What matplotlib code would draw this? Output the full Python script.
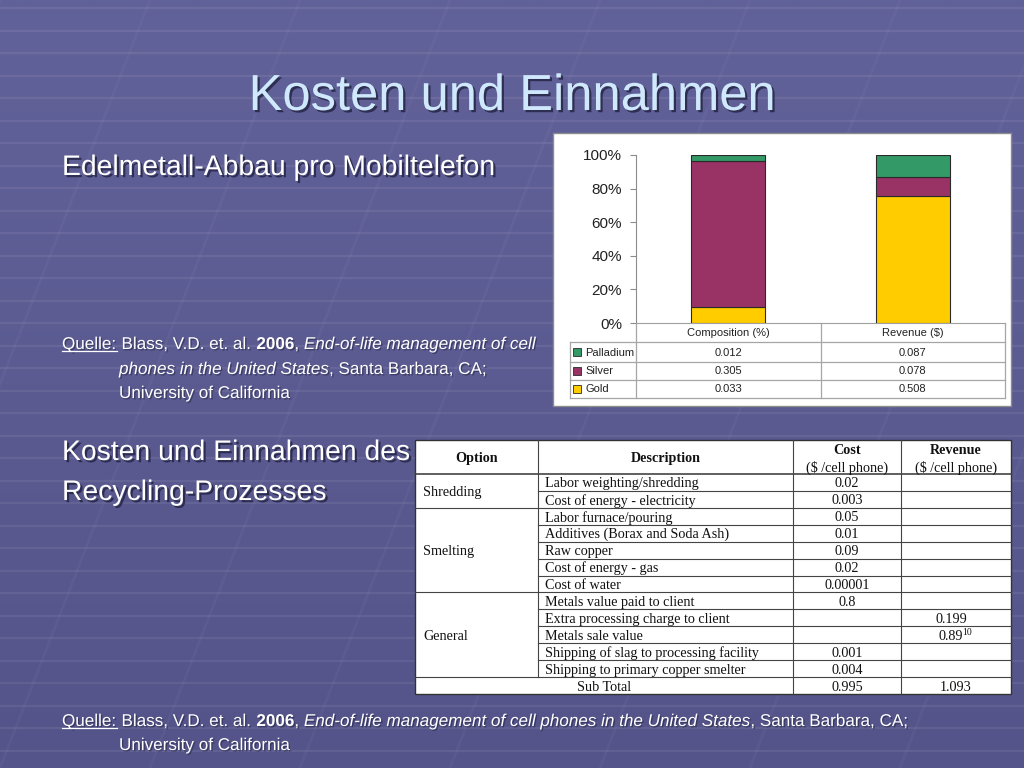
import matplotlib
matplotlib.use("Agg")
import matplotlib.pyplot as plt
import matplotlib.patheffects as pe
from matplotlib.patches import Rectangle
import numpy as np

# ---------------- data ----------------
metals = ["Palladium", "Silver", "Gold"]
metal_colors = ["#339966", "#993366", "#FFCC00"]
chart_cats = ["Composition (%)", "Revenue ($)"]
composition = [0.012, 0.305, 0.033]
revenue_metal = [0.087, 0.078, 0.508]
yticks = [0, 20, 40, 60, 80, 100]

options = ["Shredding", "Smelting", "General"]
option_sizes = [2, 5, 5]
descriptions = ["Labor weighting/shredding", "Cost of energy - electricity",
                "Labor furnace/pouring", "Additives (Borax and Soda Ash)",
                "Raw copper", "Cost of energy - gas", "Cost of water",
                "Metals value paid to client", "Extra processing charge to client",
                "Metals sale value", "Shipping of slag to processing facility",
                "Shipping to primary copper smelter"]
costs = ["0.02", "0.003", "0.05", "0.01", "0.09", "0.02", "0.00001",
         "0.8", "", "", "0.001", "0.004"]
revenues = ["", "", "", "", "", "", "", "", "0.199", "0.89", "", ""]
revenue_notes = ["", "", "", "", "", "", "", "", "", "10", "", ""]
subtotal_label = "Sub Total"
subtotal_cost = "0.995"
subtotal_revenue = "1.093"
col_headers = ["Option", "Description", "Cost", "Revenue"]
col_units = ["", "", "($ /cell phone)", "($ /cell phone)"]

# ---------------- figure ----------------
W, H = 1024, 768
fig = plt.figure(figsize=(W / 100, H / 100), dpi=100)
ax = fig.add_axes([0, 0, 1, 1])
ax.set_xlim(0, W)
ax.set_ylim(H, 0)
ax.axis("off")

# background gradient
grad = np.linspace(0, 1, 256)[:, None]
top = np.array([0x62, 0x62, 0x9a]) / 255
bot = np.array([0x54, 0x54, 0x8a]) / 255
img = top[None, None, :] * (1 - grad[..., None]) + bot[None, None, :] * grad[..., None]
img = np.repeat(img, 2, axis=1)
ax.imshow(img, extent=[0, W, H, 0], aspect="auto", zorder=0)

# faint perspective grid
for yy in np.arange(8, H, 22.5):
    ax.plot([0, W], [yy, yy], color="white", alpha=0.07, lw=1.6, zorder=1)
for k in range(-4, 10):
    xb = k * 150
    ax.plot([xb, xb + 300], [H, 0], color="white", alpha=0.03, lw=2, zorder=1)

renderer = fig.canvas.get_renderer()
SANS = "Liberation Sans"
SERIF = "Liberation Serif"
shadow = [pe.SimplePatchShadow(offset=(1.6, -1.6), shadow_rgbFace="#1e1e3c", alpha=0.75), pe.Normal()]
light_shadow = [pe.SimplePatchShadow(offset=(1, -1), shadow_rgbFace="#1e1e3c", alpha=0.5), pe.Normal()]


def text_width(s, **kw):
    t1 = ax.text(0, 0, s + "|", **kw)
    t2 = ax.text(0, 0, "|", **kw)
    w = t1.get_window_extent(renderer).width - t2.get_window_extent(renderer).width
    t1.remove()
    t2.remove()
    return w


def runs_text(x, y, runs, size, color="white", effects=None):
    for s, weight, style, ul in runs:
        kw = dict(fontsize=size, fontweight=weight, fontstyle=style, family=SANS)
        w = text_width(s, **kw)
        ax.text(x, y, s, color=color, va="baseline", ha="left", zorder=5,
                path_effects=effects, **kw)
        if ul:
            ax.plot([x, x + w], [y + 2.2, y + 2.2], color=color, lw=0.9, zorder=5)
        x += w


# title
ax.text(512, 110, "Kosten und Einnahmen", fontsize=36.5, family=SANS, color="#cfe8fb",
        ha="center", va="baseline", zorder=5, path_effects=shadow)

# headings
ax.text(62, 175, "Edelmetall-Abbau pro Mobiltelefon", fontsize=20.4, family=SANS,
        color="white", ha="left", va="baseline", zorder=5, path_effects=shadow)
ax.text(62, 460, "Kosten und Einnahmen des", fontsize=20.4, family=SANS,
        color="white", ha="left", va="baseline", zorder=5, path_effects=shadow)
ax.text(62, 500, "Recycling-Prozesses", fontsize=20.4, family=SANS,
        color="white", ha="left", va="baseline", zorder=5, path_effects=shadow)

# sources
qs = 12.3
runs_text(62, 349, [("Quelle:", "normal", "normal", True),
                    (" Blass, V.D. et. al. ", "normal", "normal", False),
                    ("2006", "bold", "normal", False),
                    (", ", "normal", "normal", False),
                    ("End-of-life management of cell", "normal", "italic", False)], qs,
          effects=light_shadow)
runs_text(119, 374, [("phones in the United States", "normal", "italic", False),
                     (", Santa Barbara, CA;", "normal", "normal", False)], qs, effects=light_shadow)
runs_text(119, 398, [("University of California", "normal", "normal", False)], qs, effects=light_shadow)

runs_text(62, 726, [("Quelle:", "normal", "normal", True),
                    (" Blass, V.D. et. al. ", "normal", "normal", False),
                    ("2006", "bold", "normal", False),
                    (", ", "normal", "normal", False),
                    ("End-of-life management of cell phones in the United States", "normal", "italic", False),
                    (", Santa Barbara, CA;", "normal", "normal", False)], qs, effects=light_shadow)
runs_text(119, 750, [("University of California", "normal", "normal", False)], qs, effects=light_shadow)

# ---------------- chart panel ----------------
ax.add_patch(Rectangle((553, 133), 458, 273, facecolor="white", edgecolor="#8c8c8c",
                       lw=1, zorder=2))

pl, pr, pt, pb = 636, 1005, 155, 323
cax = fig.add_axes([pl / W, 1 - pb / H, (pr - pl) / W, (pb - pt) / H])
cax.set_facecolor("none")
comp = np.array(composition) / sum(composition) * 100
rev = np.array(revenue_metal) / sum(revenue_metal) * 100
shares = np.vstack([comp, rev])  # rows: categories, cols: metals
xpos = np.arange(len(chart_cats))
bottom = np.zeros(len(chart_cats))
for j in [2, 1, 0]:  # gold at bottom, then silver, palladium on top
    cax.bar(xpos, shares[:, j], 0.4, bottom=bottom, color=metal_colors[j],
            edgecolor="#2a2a2a", lw=0.8, zorder=3)
    bottom += shares[:, j]
cax.set_xlim(-0.5, 1.5)
cax.set_ylim(0, 100)
cax.set_yticks(yticks)
cax.set_yticklabels([f"{v}%" for v in yticks], fontsize=11, family=SANS, color="#222222")
cax.set_xticks([])
for s in ["top", "right"]:
    cax.spines[s].set_visible(False)
cax.spines["left"].set_color("#8c8c8c")
cax.spines["bottom"].set_color("#a0a0a0")
cax.tick_params(axis="y", length=4, color="#8c8c8c", pad=6)

# data table under chart
tl = 570
hb, rows_y = 342, [342, 362, 380, 398]
gc = "#a6a6a6"
cmid = (pl + pr) / 2
ax.plot([pl, pl], [pb, rows_y[-1]], color=gc, lw=0.9, zorder=3)
ax.plot([cmid, cmid], [pb, rows_y[-1]], color=gc, lw=0.9, zorder=3)
ax.plot([pr, pr], [pb, rows_y[-1]], color=gc, lw=0.9, zorder=3)
ax.plot([tl, tl], [rows_y[0], rows_y[-1]], color=gc, lw=0.9, zorder=3)
for yy in rows_y:
    ax.plot([tl, pr], [yy, yy], color=gc, lw=0.9, zorder=3)
centers = [(pl + cmid) / 2, (cmid + pr) / 2]
for c, lab in zip(centers, chart_cats):
    ax.text(c, (pb + hb) / 2 + 0.5, lab, fontsize=8, family=SANS, color="#222222",
            ha="center", va="center", zorder=4)
for i, m in enumerate(metals):
    yc = (rows_y[i] + rows_y[i + 1]) / 2
    ax.add_patch(Rectangle((573, yc - 4), 8, 8, facecolor=metal_colors[i],
                           edgecolor="#2a2a2a", lw=0.6, zorder=4))
    ax.text(585, yc + 0.5, m, fontsize=8, family=SANS, color="#222222",
            ha="left", va="center", zorder=4)
    ax.text(centers[0], yc + 0.5, f"{composition[i]:.3f}", fontsize=8, family=SANS,
            color="#222222", ha="center", va="center", zorder=4)
    ax.text(centers[1], yc + 0.5, f"{revenue_metal[i]:.3f}", fontsize=8, family=SANS,
            color="#222222", ha="center", va="center", zorder=4)

# ---------------- cost / revenue table ----------------
X = [415, 538, 793, 901, 1011]
T, HB, B = 440, 474, 694
n_rows = len(descriptions) + 1
rh = (B - HB) / n_rows
ax.add_patch(Rectangle((X[0], T), X[4] - X[0], B - T, facecolor="white",
                       edgecolor="#333333", lw=1, zorder=2))
lc = "#444444"
lw = 0.8
ax.plot([X[0], X[4]], [HB, HB], color=lc, lw=1.2, zorder=3)
ax.plot([X[1], X[1]], [T, B - rh], color=lc, lw=lw, zorder=3)
for xx in X[2:4]:
    ax.plot([xx, xx], [T, B], color=lc, lw=lw, zorder=3)
for r in range(1, n_rows):
    yy = HB + r * rh
    ax.plot([X[1], X[4]], [yy, yy], color=lc, lw=lw, zorder=3)
acc = 0
for sz in option_sizes:
    acc += sz
    yy = HB + acc * rh
    ax.plot([X[0], X[1]], [yy, yy], color=lc, lw=lw, zorder=3)

fs = 10.2
tc = "#111111"
dy = 1.5
hdr_c = [(X[0] + X[1]) / 2, (X[1] + X[2]) / 2, (X[2] + X[3]) / 2, (X[3] + X[4]) / 2]
for c, h, u in zip(hdr_c, col_headers, col_units):
    if u:
        ax.text(c, 449 + dy, h, fontsize=fs, family=SERIF, fontweight="bold", color=tc,
                ha="center", va="center", zorder=4)
        ax.text(c, 466 + dy, u, fontsize=fs, family=SERIF, color=tc, ha="center",
                va="center", zorder=4)
    else:
        ax.text(c, 457 + dy, h, fontsize=fs, family=SERIF, fontweight="bold", color=tc,
                ha="center", va="center", zorder=4)
acc = 0
for opt, sz in zip(options, option_sizes):
    yc = HB + (acc + sz / 2) * rh + dy
    ax.text(423, yc, opt, fontsize=fs, family=SERIF, color=tc, ha="left",
            va="center", zorder=4)
    acc += sz
for i, d in enumerate(descriptions):
    yc = HB + (i + 0.5) * rh + dy
    ax.text(545, yc, d, fontsize=fs, family=SERIF, color=tc, ha="left",
            va="center", zorder=4)
    if costs[i]:
        ax.text(hdr_c[2], yc, costs[i], fontsize=fs, family=SERIF, color=tc,
                ha="center", va="center", zorder=4)
    if revenues[i]:
        ax.text(hdr_c[3] - 5, yc, revenues[i], fontsize=fs, family=SERIF, color=tc,
                ha="center", va="center", zorder=4)
        if revenue_notes[i]:
            w = text_width(revenues[i], fontsize=fs, family=SERIF)
            ax.text(hdr_c[3] - 5 + w / 2 - 1, yc - 4, revenue_notes[i], fontsize=7,
                    family=SERIF, color=tc, ha="left", va="center", zorder=4)
yc = B - rh / 2 + dy
ax.text((X[0] + X[2]) / 2, yc, subtotal_label, fontsize=fs, family=SERIF, color=tc,
        ha="center", va="center", zorder=4)
ax.text(hdr_c[2], yc, subtotal_cost, fontsize=fs, family=SERIF, color=tc,
        ha="center", va="center", zorder=4)
ax.text(hdr_c[3], yc, subtotal_revenue, fontsize=fs, family=SERIF, color=tc,
        ha="center", va="center", zorder=4)

fig.savefig("out.png", dpi=100)
